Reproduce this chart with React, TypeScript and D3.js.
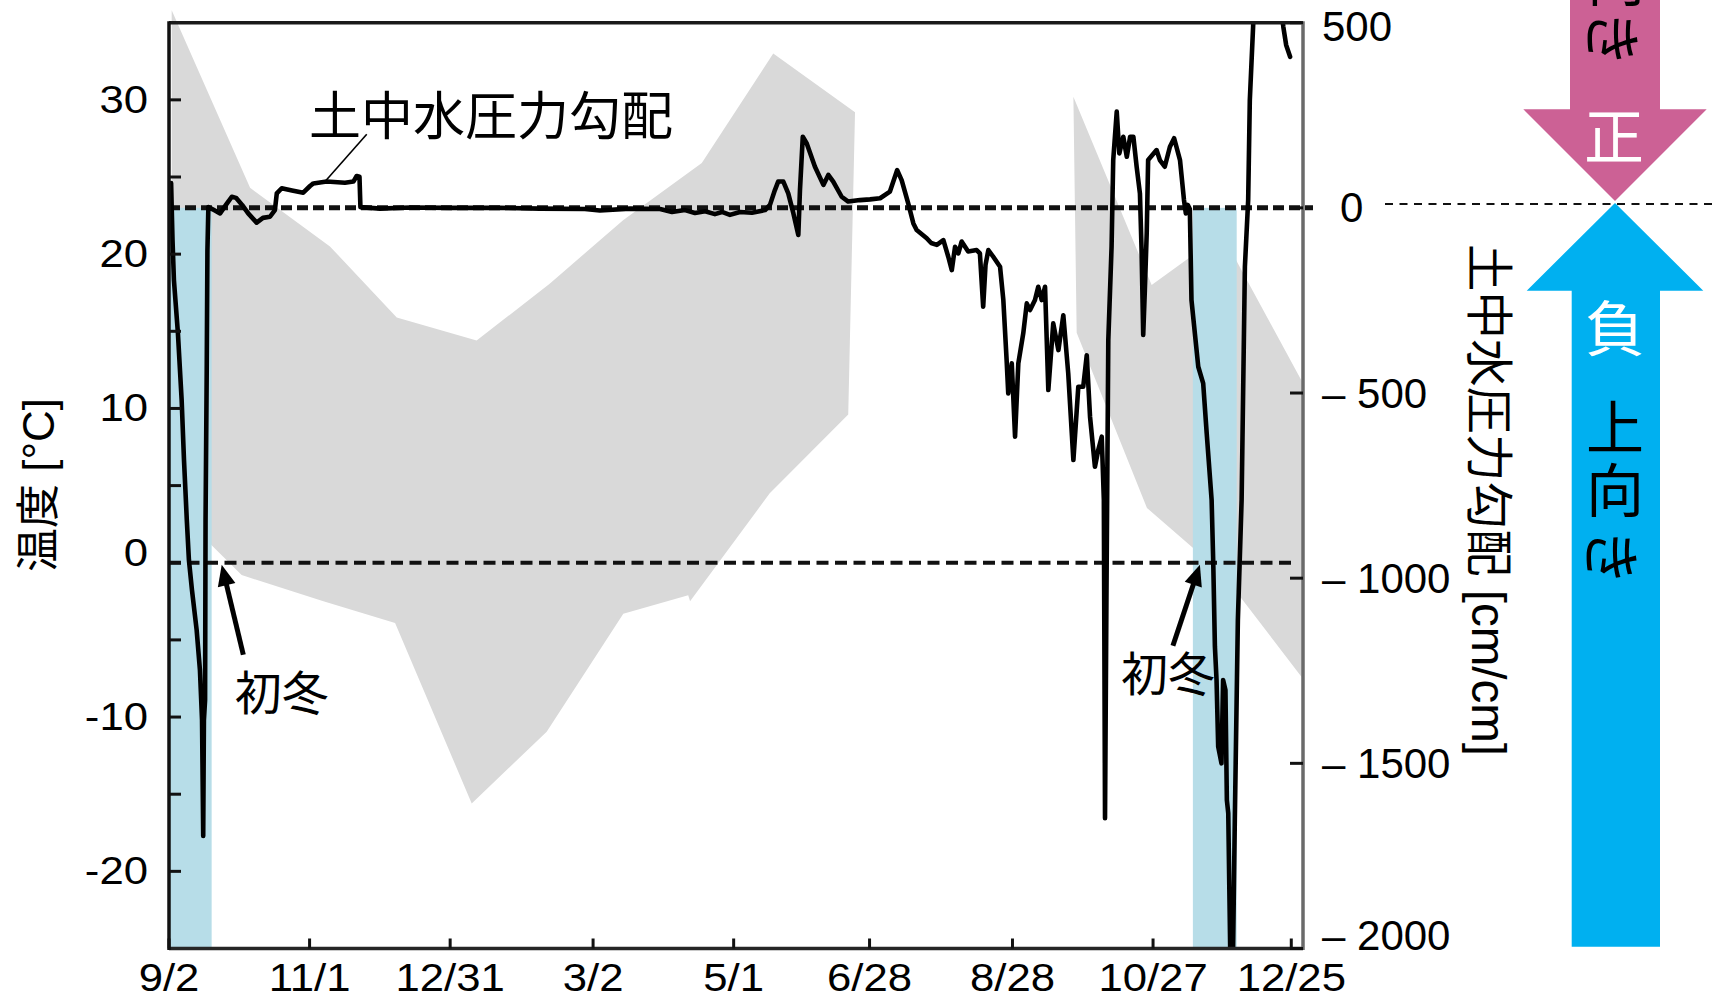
import React from "react";
import * as d3 from "d3";

// ---- canvas & plot frame -------------------------------------------------
const W = 1712;
const H = 1000;
const PL = 169;
const PR = 1303;
const PT = 22.7;
const PB = 948.5;

// ---- time base: values are stored as days since 2009-09-02 ----------------
const START_UTC = Date.UTC(2009, 8, 2);
const DAY_MS = 86400000;
const END_DAY = 484;
const toDate = (d: number) => new Date(START_UTC + d * DAY_MS);

// ---- axes ----------------------------------------------------------------
const xTickDates = [
  "2009-09-02", "2009-11-01", "2009-12-31", "2010-03-02", "2010-05-01",
  "2010-06-28", "2010-08-28", "2010-10-27", "2010-12-25",
];
const tempTickValues = [-20, -15, -10, -5, 0, 5, 10, 15, 20, 25, 30];
const tempLabelValues = [-20, -10, 0, 10, 20, 30];
const gradTickValues = [500, 0, -500, -1000, -1500, -2000];

// ---- air temperature range band [day, °C] (two observation periods) -------
const bandUpperA: [number, number][] = [
  [1.15, 35.8], [34.6, 24.3], [68.7, 20.5], [97.2, 15.9], [131.3, 14.4],
  [162.6, 18.1], [193.8, 22.2], [227.4, 25.9], [257.9, 33.0], [292.8, 29.2],
];
const bandLowerA: [number, number][] = [
  [1.15, 3.7], [31.0, -0.8], [65.9, -2.5], [96.5, -3.9], [129.2, -15.6],
  [161.2, -10.95], [193.9, -3.3], [221.6, -2.1], [222.4, -2.5], [256.4, 4.5],
  [289.9, 9.6],
];
const bandUpperB: [number, number][] = [
  [386.0, 30.2], [419.4, 18.0], [449.4, 21.3], [483.4, 11.8],
];
const bandLowerB: [number, number][] = [
  [387.4, 14.9], [417.4, 3.55], [449.4, -0.66], [483.4, -7.4],
];

// ---- freezing periods (days) ----------------------------------------------
const freezeStartDays = [0, 437];
const freezeEndDays = [18.2, 455.7];

// ---- soil water pressure gradient [day, cm/cm] ----------------------------
const gradientSeries: [number, number][] = [
  [0.9, 67], [1.5, -87], [2.1, -195], [3.8, -338], [5.4, -519], [6.4, -681],
  [7.6, -843], [8.5, -951], [9.8, -1032], [11.8, -1140], [13.2, -1248],
  [14.1, -1383], [14.6, -1696], [14.9, -1383], [15.4, -1329], [15.6, -843],
  [16.1, -438], [16.4, -114], [16.8, 2], [19.2, -6], [21.8, -15], [24.3, 8],
  [26.8, 30], [28.6, 27], [31.2, 8], [33.8, -15], [37.4, -40], [40.1, -27],
  [43.1, -24], [45.2, -6], [46.0, 39], [48.1, 53], [52.5, 47], [57.3, 41],
  [60.2, 59], [61.6, 66], [67.3, 71], [75.1, 68], [78.7, 71], [80.1, 86],
  [81.3, 84], [81.7, 2], [90.1, -2], [102.9, 1], [119.9, 0], [141.3, 0],
  [158.3, -2], [177.5, -3], [183.9, -7], [196.8, -2], [209.6, -3],
  [214.7, -11], [220.2, -6], [224.5, -14], [228.8, -9], [233.0, -17],
  [236.0, -11], [239.4, -19], [243.7, -11], [248.8, -13], [254.4, -6],
  [256.5, 8], [258.6, 48], [260.0, 71], [262.2, 71], [264.3, 39],
  [266.5, -15], [268.6, -73], [269.3, 48], [270.5, 192], [272.2, 174],
  [275.7, 111], [279.3, 62], [281.4, 89], [283.5, 71], [287.1, 30],
  [289.9, 17], [294.9, 21], [299.2, 23], [303.5, 26], [307.7, 44],
  [310.8, 102], [312.7, 75], [315.5, 12], [317.7, -42], [319.1, -60],
  [323.4, -82], [325.3, -95], [327.7, -100], [330.5, -87], [332.6, -132],
  [334.1, -168], [335.5, -105], [336.9, -123], [338.3, -91], [341.1, -118],
  [344.7, -114], [346.1, -123], [347.5, -267], [348.5, -154], [349.7, -114],
  [351.8, -132], [354.7, -159], [356.1, -249], [357.5, -411], [358.2, -501],
  [359.7, -420], [361.1, -618], [362.5, -420], [364.6, -339], [366.1, -258],
  [367.5, -276], [369.6, -249], [371.0, -213], [372.5, -249], [373.9, -213],
  [375.3, -492], [377.4, -312], [379.6, -384], [381.7, -290], [383.8, -447],
  [386.0, -681], [388.1, -483], [390.2, -483], [391.7, -398], [393.1, -564],
  [395.2, -699], [396.6, -654], [398.1, -618], [399.0, -789], [399.5, -1648],
  [400.1, -1059], [400.9, -357], [402.3, -105], [403.0, 129], [404.5, 260],
  [405.6, 147], [407.3, 192], [408.8, 138], [410.2, 192], [411.6, 192],
  [413.0, 111], [414.4, 39], [415.1, -114], [415.8, -343], [416.5, -222],
  [417.3, -68], [417.9, 129], [421.5, 156], [422.9, 129], [425.0, 111],
  [427.2, 165], [429.0, 188], [431.5, 129], [433.2, 21], [434.0, -15],
  [434.8, 8], [435.7, -3], [436.4, -249], [439.3, -429], [441.4, -474],
  [442.9, -609], [445.0, -789], [445.7, -960], [446.4, -1185], [447.1, -1275],
  [447.8, -1455], [449.2, -1500], [449.9, -1275], [450.9, -1302],
  [451.5, -1599], [452.1, -1635], [452.5, -1815], [453.0, -2031],
  [454.1, -2031], [454.9, -1653], [456.2, -1113], [457.8, -789],
  [459.2, -159], [460.6, 21], [461.3, 291], [462.7, 489], [463.9, 669],
  [472.0, 669], [475.6, 489], [476.8, 440], [478.5, 408],
];

// ---- annotation anchors ----------------------------------------------------
const firstWinterDays = [22.5, 440];
const gradientLabelAnchor: [number, number] = [66.6, 71];

const LATIN = "'Liberation Sans', Arial, sans-serif";
const CJK = "'Noto Sans CJK JP', 'Noto Sans CJK SC', sans-serif";
const MIXED = "'Liberation Sans', 'Noto Sans CJK JP', sans-serif";

function Arrow({ x1, y1, x2, y2 }: { x1: number; y1: number; x2: number; y2: number }) {
  const dx = x2 - x1;
  const dy = y2 - y1;
  const len = Math.hypot(dx, dy);
  const ux = dx / len;
  const uy = dy / len;
  const hl = 21;
  const hw = 9;
  const bx = x2 - ux * hl;
  const by = y2 - uy * hl;
  return (
    <g>
      <line x1={x1} y1={y1} x2={bx + ux * 3} y2={by + uy * 3} stroke="#000" strokeWidth={5} />
      <polygon
        points={`${x2},${y2} ${bx - uy * hw},${by + ux * hw} ${bx + uy * hw},${by - ux * hw}`}
        fill="#000"
      />
    </g>
  );
}

export default function App() {
  const x = d3.scaleUtc().domain([toDate(0), toDate(END_DAY)]).range([PL, PR]);
  const yT = d3.scaleLinear().domain([-25, 35]).range([PB, PT]);
  const yP = d3.scaleLinear().domain([-2000, 500]).range([PB, PT]);
  const parse = d3.utcParse("%Y-%m-%d");
  const fmt = d3.utcFormat("%-m/%-d");
  const xd = (d: number) => x(toDate(d));

  const bandPath = (upper: [number, number][], lower: [number, number][]) => {
    const pts: [number, number][] = [...upper, ...lower.slice().reverse()].map(
      ([d, t]) => [xd(d), yT(t)] as [number, number]
    );
    return (d3.line()(pts) || "") + "Z";
  };

  const gradLine = d3
    .line<[number, number]>()
    .x((d) => xd(d[0]))
    .y((d) => yP(d[1]));

  const y0P = yP(0);
  const y0T = yT(0);
  const xTicks = xTickDates.map((s) => parse(s) as Date);

  const gradLabel = (v: number) => (v < 0 ? `\u2013 ${Math.abs(v)}` : `${v}`);

  const [ga, gv] = gradientLabelAnchor;
  const ax = xd(ga);
  const ay = yP(gv);

  return (
    <div style={{ position: "absolute", left: 0, top: 0 }}>
      <svg width={W} height={H} viewBox={`0 0 ${W} ${H}`} style={{ display: "block", background: "#fff" }}>
        <defs>
          <clipPath id="plotClip">
            <rect x={PL} y={PT} width={PR - PL} height={PB - PT} />
          </clipPath>
        </defs>

        {/* temperature range band */}
        <path d={bandPath(bandUpperA, bandLowerA)} fill="#d9d9d9" />
        <path d={bandPath(bandUpperB, bandLowerB)} fill="#d9d9d9" />

        {/* freezing periods */}
        {freezeStartDays.map((s, i) => (
          <rect
            key={`fz${i}`}
            x={xd(s)}
            y={y0P}
            width={xd(freezeEndDays[i]) - xd(s)}
            height={PB - y0P}
            fill="#b7dde8"
          />
        ))}

        {/* 0 °C reference */}
        <line
          x1={xd(0)}
          x2={xd(479)}
          y1={y0T}
          y2={y0T}
          stroke="#111"
          strokeWidth={4}
          strokeDasharray="12 6.5"
        />
        {/* zero gradient reference */}
        <line
          x1={PL}
          x2={PR + 10}
          y1={y0P}
          y2={y0P}
          stroke="#111"
          strokeWidth={5}
          strokeDasharray="11 5"
        />

        {/* soil water pressure gradient */}
        <g clipPath="url(#plotClip)">
          <path
            d={gradLine(gradientSeries) || ""}
            fill="none"
            stroke="#000"
            strokeWidth={4.6}
            strokeLinejoin="round"
            strokeLinecap="round"
          />
        </g>

        {/* frame */}
        <line x1={PL} x2={PR} y1={PT} y2={PT} stroke="#1a1a1a" strokeWidth={3.5} />
        <line x1={PL} x2={PR} y1={PB} y2={PB} stroke="#262626" strokeWidth={3.5} />
        <line x1={PL} x2={PL} y1={PT - 1.5} y2={PB + 1.5} stroke="#111" strokeWidth={3.5} />
        <line x1={PR} x2={PR} y1={PT - 1.5} y2={PB + 1.5} stroke="#6a6a6a" strokeWidth={3.5} />

        {/* left axis (temperature) */}
        {tempTickValues.map((v) => (
          <line key={`tt${v}`} x1={PL} x2={PL + 12} y1={yT(v)} y2={yT(v)} stroke="#111" strokeWidth={3} />
        ))}
        {tempLabelValues.map((v) => (
          <text
            key={`tl${v}`}
            transform={`translate(148, ${yT(v) + (v === 0 ? -10 : 0)}) scale(1.15, 1)`}
            textAnchor="end"
            dominantBaseline="central"
            fontFamily={LATIN}
            fontSize={38}
            fill="#000"
          >
            {v}
          </text>
        ))}
        <text
          transform={`translate(38, 485) rotate(-90)`}
          textAnchor="middle"
          dominantBaseline="central"
          fontFamily={MIXED}
          fontSize={44}
          fill="#000"
        >
          温度 [°C]
        </text>

        {/* bottom axis (date) */}
        {xTicks.map((d, i) => (
          <g key={`xt${i}`}>
            <line x1={x(d)} x2={x(d)} y1={PB} y2={PB - 10} stroke="#111" strokeWidth={3} />
            <text
              transform={`translate(${x(d)}, 991) scale(1.15, 1)`}
              textAnchor="middle"
              fontFamily={LATIN}
              fontSize={38}
              fill="#000"
            >
              {fmt(d)}
            </text>
          </g>
        ))}

        {/* right axis (pressure gradient) */}
        {gradTickValues.map((v) => (
          <g key={`gt${v}`}>
            <line x1={PR - 13} x2={PR} y1={yP(v)} y2={yP(v)} stroke="#111" strokeWidth={3} />
            <text
              x={v === 0 ? 1340 : 1322}
              y={Math.min(Math.max(yP(v), 26), 935)}
              textAnchor="start"
              dominantBaseline="central"
              fontFamily={LATIN}
              fontSize={42}
              fill="#000"
            >
              {gradLabel(v)}
            </text>
          </g>
        ))}
        <text
          transform={`translate(1488, 500) rotate(90)`}
          textAnchor="middle"
          dominantBaseline="central"
          fontFamily={MIXED}
          fontSize={47.5}
          fill="#000"
        >
          土中水圧力勾配 [cm/cm]
        </text>

        {/* series label with leader */}
        <line x1={ax + 41.7} y1={ay - 47.4} x2={ax} y2={ay} stroke="#000" strokeWidth={1.6} />
        <text
          x={ax + 166}
          y={ay - 68.7}
          textAnchor="middle"
          dominantBaseline="central"
          fontFamily={CJK}
          fontSize={52}
          fill="#000"
        >
          土中水圧力勾配
        </text>

        {/* first-winter markers */}
        {firstWinterDays.map((d, i) => {
          const tx = xd(d);
          const ty = y0T + 2;
          const tail = i === 0 ? [21.6, 90] : [-27, 81];
          const lab = i === 0 ? [60, 125] : [-32, 106];
          return (
            <g key={`fw${i}`}>
              <Arrow x1={tx + tail[0]} y1={ty + tail[1]} x2={tx} y2={ty} />
              <text
                x={tx + lab[0]}
                y={ty + lab[1]}
                textAnchor="middle"
                dominantBaseline="central"
                fontFamily={CJK}
                fontSize={47}
                fill="#000"
              >
                初冬
              </text>
            </g>
          );
        })}

        {/* direction key */}
        <line x1={1385} x2={W} y1={204} y2={204} stroke="#111" strokeWidth={2} strokeDasharray="8 6.5" />
        <polygon
          points="1570,-10 1660,-10 1660,109.3 1706.7,109.3 1615,201 1523.3,109.3 1570,109.3"
          fill="#cc6195"
        />
        <polygon
          points="1615,203 1703.3,290.7 1660,290.7 1660,946.7 1571.7,946.7 1571.7,290.7 1526.7,290.7"
          fill="#00b0f0"
        />
        <g fontFamily={CJK} textAnchor="middle" dominantBaseline="central">
          <text x={1616} y={-24} fontSize={58} fill="#000">向</text>
          <text transform="translate(1616, 38.5) rotate(90)" fontSize={58} fill="#000">き</text>
          <text x={1614} y={132.7} fontSize={60} fill="#fff">正</text>
          <text x={1615} y={324} fontSize={60} fill="#fff">負</text>
          <text fontSize={58} fill="#000">
            <tspan x={1615} y={424}>上</tspan>
            <tspan x={1615} y={487}>向</tspan>
          </text>
          <text transform="translate(1615, 557) rotate(90)" fontSize={58} fill="#000">き</text>
        </g>
      </svg>
    </div>
  );
}
